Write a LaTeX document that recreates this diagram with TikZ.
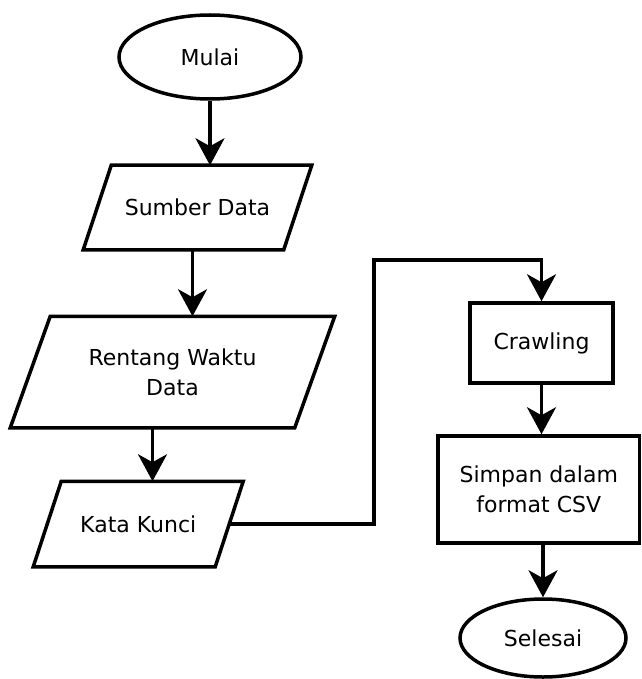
\documentclass[tikz,border=0pt]{standalone}
\usepackage{fontspec}
\setmainfont{DejaVu Sans}
\usetikzlibrary{arrows.meta,shapes.geometric}

\begin{document}
\begin{tikzpicture}[x=1pt,y=-1pt,line width=3.5pt,
  font=\fontsize{22}{30}\selectfont,
  term/.style={draw,ellipse,inner sep=0pt,align=center},
  procbox/.style={draw,rectangle,inner sep=0pt,align=center},
  iobox/.style={rectangle,inner sep=0pt,align=center},
  flow/.style={-{Stealth[length=27pt,width=29pt,inset=8pt]}}]

\useasboundingbox (0,0) rectangle (641,679);

% terminators
\node[term,minimum width=182pt,minimum height=84pt] (start) at (210,57) {Mulai};
\node[term,minimum width=166pt,minimum height=78pt] (stop) at (543,638) {Selesai};

% input boxes (parallelogram outline drawn round each node)
\node[iobox,minimum width=197pt,minimum height=81pt] (src) at (197.5,207.5) {Sumber Data};
\node[iobox,minimum width=281pt,minimum height=108pt] (range) at (172.5,372) {Rentang Waktu\\Data};
\node[iobox,minimum width=178.5pt,minimum height=82pt] (kw) at (138.25,524) {Kata Kunci};

\draw ([xshift=14pt]src.north west) -- ([xshift=14pt]src.north east)
   -- ([xshift=-14pt]src.south east) -- ([xshift=-14pt]src.south west) -- cycle;
\draw ([xshift=20pt]range.north west) -- ([xshift=20pt]range.north east)
   -- ([xshift=-20pt]range.south east) -- ([xshift=-20pt]range.south west) -- cycle;
\draw ([xshift=14pt]kw.north west) -- ([xshift=14pt]kw.north east)
   -- ([xshift=-14pt]kw.south east) -- ([xshift=-14pt]kw.south west) -- cycle;

% processes
\node[procbox,minimum width=143pt,minimum height=80pt] (crawl) at (541.5,343) {Crawling};
\node[procbox,minimum width=201.5pt,minimum height=107pt] (save) at (538.75,489.5) {Simpan dalam\\format CSV};

% connectors (slanted boxes: top edge centre sits right, bottom edge centre left)
\coordinate (bend) at (374,260);
\draw[flow] (start.south) -- (start.south |- src.north);
\draw[flow] ([xshift=20pt]range.north |- src.south) -- ([xshift=20pt]range.north);
\draw[flow] ([xshift=-20pt]range.south) -- ([xshift=-20pt]range.south |- kw.north);
\draw[flow] (kw.east) -| (bend) -| (crawl.north);
\draw[flow] (crawl.south) -- (crawl.south |- save.north);
\draw[flow] (stop.north |- save.south) -- (stop.north);

\end{tikzpicture}
\end{document}
